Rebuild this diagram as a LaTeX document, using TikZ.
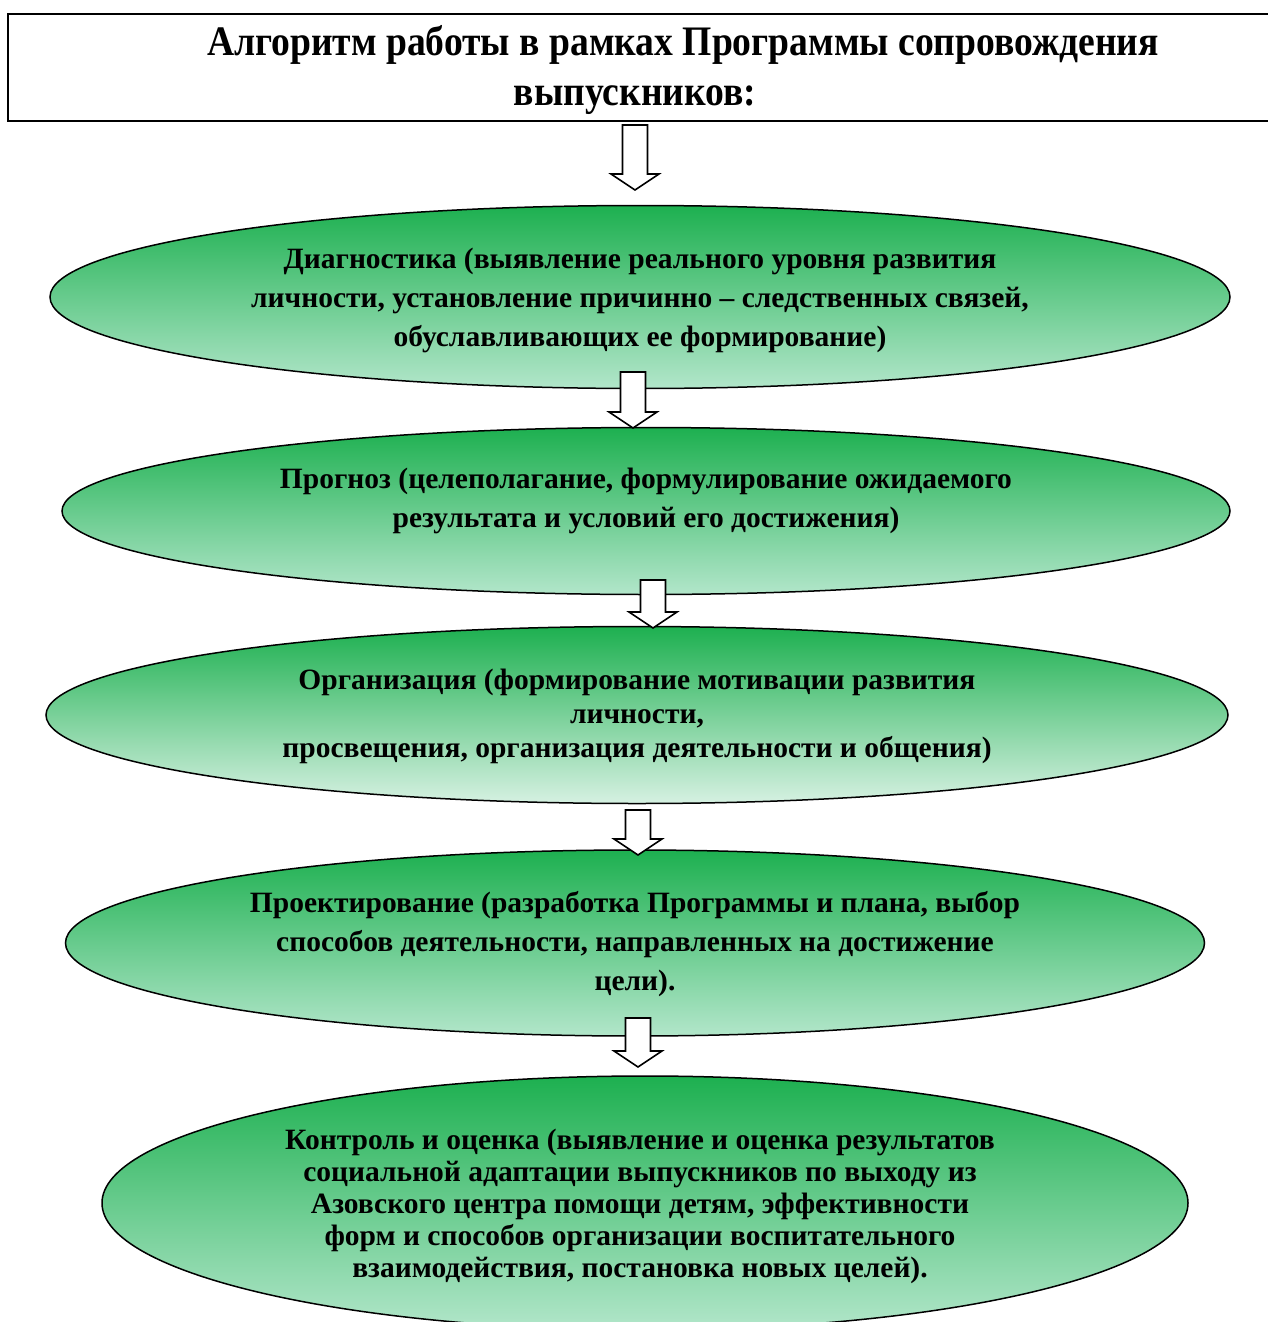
\documentclass[tikz,border=0pt]{standalone}
\usepackage{fontspec}
\setmainfont{Liberation Serif}
\newfontfamily\titlefont[FakeStretch=0.895]{Liberation Serif}
\usetikzlibrary{shapes.geometric}
\definecolor{gtop}{RGB}{29,176,80}
\definecolor{gbot}{RGB}{178,230,202}
\definecolor{gbotlight}{RGB}{214,241,226}
\tikzset{
  stage/.style={ellipse, draw=black, line width=1.5pt, inner sep=0pt,
    top color=gtop, bottom color=gbot},
  stagetext/.style={align=center, font=\fontsize{29.5}{39}\selectfont\bfseries, inner sep=0pt},
  blockarrow/.style={draw=black, line width=1.6pt, fill=white, line join=miter},
}
\newcommand{\blockarr}[3]{% x, ytop, ytip
  \draw[blockarrow] (#1-12.5,#2) -- (#1+12.5,#2) -- (#1+12.5,{#3-16}) -- (#1+24,{#3-16})
    -- (#1,#3) -- (#1-24,{#3-16}) -- (#1-12.5,{#3-16}) -- cycle;}
\begin{document}
\begin{tikzpicture}[x=1pt,y=-1pt]
\useasboundingbox (0,0) rectangle (1267,1322);
\fill[white] (0,0) rectangle (1267,1322);
% title
\draw[line width=2pt] (1280,14) -- (8,14) -- (8,121) -- (1280,121);
\node[align=center, inner sep=0pt, font=\titlefont\fontsize{42}{50}\selectfont\bfseries] (title) at (683,70)
  {Алгоритм работы в рамках Программы сопровождения\\\hspace*{-96pt}выпускников:};
% ellipses
\node[stage, minimum width=1180pt, minimum height=183pt] (e1) at (640,297) {};
\node[stage, minimum width=1168pt, minimum height=167pt] (e2) at (646,511) {};
\node[stage, minimum width=1182pt, minimum height=177pt, bottom color=gbotlight] (e3) at (637,715) {};
\node[stage, minimum width=1139pt, minimum height=186pt] (e4) at (635,943) {};
\node[stage, minimum width=1086pt, minimum height=254pt] (e5) at (645,1203) {};
% texts
\node[stagetext] (t1) at (640,300) {Диагностика (выявление реального уровня развития\\
личности, установление причинно – следственных связей,\\
обуславливающих ее формирование)};
\node[stagetext] (t2) at (646,501) {Прогноз (целеполагание, формулирование ожидаемого\\
результата и условий его достижения)};
\node[stagetext, font=\fontsize{29.5}{34}\selectfont\bfseries] (t3) at (637,716) {Организация (формирование мотивации развития\\
личности,\\
просвещения, организация деятельности и общения)};
\node[stagetext] (t4) at (635,944) {Проектирование (разработка Программы и плана, выбор\\
способов деятельности, направленных на достижение\\
цели).};
\node[stagetext, font=\fontsize{29.5}{32}\selectfont\bfseries] (t5) at (640,1206) {Контроль и оценка (выявление и оценка результатов\\
социальной адаптации выпускников по выходу из\\
Азовского центра помощи детям, эффективности\\
форм и способов организации воспитательного\\
взаимодействия, постановка новых целей).};
% arrows
\blockarr{635}{125}{190}
\blockarr{633}{372}{428}
\blockarr{653}{580}{628}
\blockarr{638}{810}{855}
\blockarr{638}{1018}{1067}
\end{tikzpicture}
\end{document}
